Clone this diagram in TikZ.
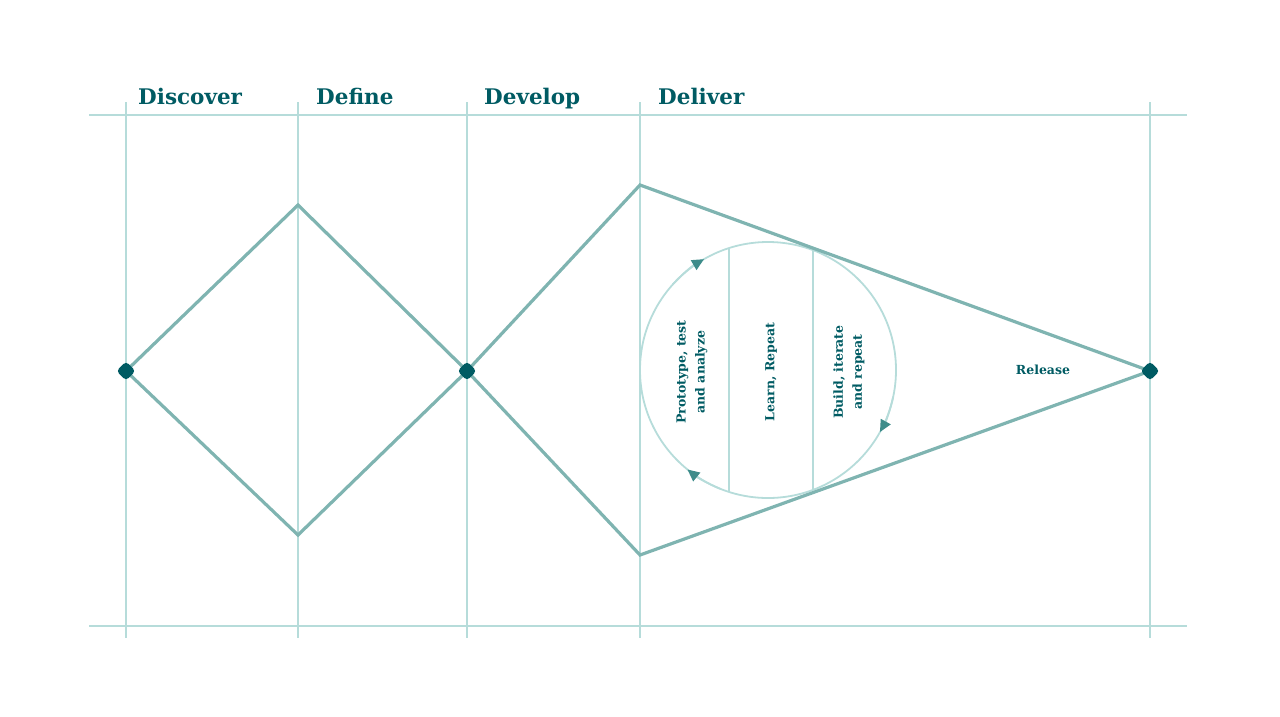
\documentclass[tikz,border=0pt]{standalone}
\usepackage{fontspec}
\setmainfont{DejaVu Serif}
\usetikzlibrary{arrows.meta}
\definecolor{gridc}{HTML}{B6DCDA}
\definecolor{linec}{HTML}{7FB4B1}
\definecolor{darkc}{HTML}{005B63}
\definecolor{tipc}{HTML}{3D8C8A}
\tikzset{
  gridline/.style={draw=gridc, line width=1.8pt},
  phase/.style={draw=linec, line width=3.2pt, line join=miter},
  dot/.style={rectangle, fill=darkc, minimum size=13.5pt, inner sep=0pt, rounded corners=3.5pt, rotate=45},
  head/.style={text=darkc, font=\bfseries\fontsize{21.5}{24}\selectfont, anchor=base west, inner sep=0pt},
  small/.style={text=darkc, font=\bfseries\fontsize{12.5}{19}\selectfont, align=center, inner sep=0pt},
  cyc/.style={draw=gridc, line width=1.8pt},
  arr/.style={draw=gridc, line width=1.8pt, -{Triangle[length=12pt,width=11pt,color=tipc,fill=tipc]}}
}
\begin{document}
\begin{tikzpicture}[x=1pt,y=-1pt]
\useasboundingbox (0,0) rectangle (1280,716);
% grid
\coordinate (hl1) at (89,115); \coordinate (hr1) at (1187,115);
\coordinate (hl2) at (89,626); \coordinate (hr2) at (1187,626);
\draw[gridline] (hl1) -- (hr1);
\draw[gridline] (hl2) -- (hr2);
\foreach \x/\n in {126/a,298/b,467/c,640/d,1150/e}{
  \coordinate (vt\n) at (\x,102); \coordinate (vb\n) at (\x,638);
  \draw[gridline] (vt\n) -- (vb\n);
}
% headings
\node[head] (h1) at (138,104) {Discover};
\node[head] (h2) at (316,104) {Define};
\node[head] (h3) at (484,104) {Develop};
\node[head] (h4) at (658,104) {Deliver};
% circle
\coordinate (cc) at (768,370);
\draw[cyc] (cc) circle[radius=128];
\coordinate (c1t) at (729,248); \coordinate (c1b) at (729,492);
\coordinate (c2t) at (813,250); \coordinate (c2b) at (813,490);
\draw[cyc] (c1t) -- (c1b);
\draw[cyc] (c2t) -- (c2b);
\draw[arr] ([shift={(222:128)}]cc) arc[start angle=222,end angle=240,radius=128];
\draw[arr] ([shift={(12:128)}]cc) arc[start angle=12,end angle=29,radius=128];
\draw[arr] ([shift={(112:128)}]cc) arc[start angle=112,end angle=129,radius=128];
% phase shapes
\coordinate (p1) at (126,371);
\coordinate (p2) at (298,205);
\coordinate (p3) at (467,371);
\coordinate (p4) at (298,535);
\coordinate (q1) at (640,185);
\coordinate (q2) at (1150,371);
\coordinate (q3) at (640,555);
\draw[phase] (p1) -- (p2) -- (p3) -- (p4) -- cycle;
\draw[phase] (p3) -- (q1) -- (q2) -- (q3) -- cycle;
% dots
\node[dot] (d1) at (p1) {};
\node[dot] (d2) at (p3) {};
\node[dot] (d3) at (q2) {};
% texts
\node[small, rotate=90] (t1) at (692,372) {Prototype, test\\and analyze};
\node[small, rotate=90] (t2) at (771,372) {Learn, Repeat};
\node[small, rotate=90] (t3) at (849,372) {Build, iterate\\and repeat};
\node[small] (t4) at (1043,370) {Release};
\end{tikzpicture}
\end{document}
